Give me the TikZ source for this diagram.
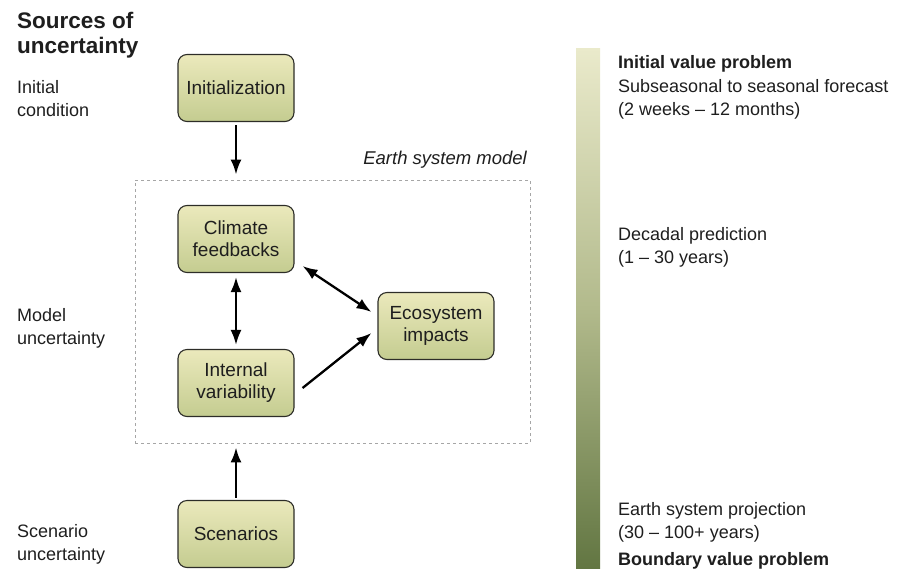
\documentclass[tikz,border=0pt]{standalone}
\usepackage{fontspec}
\setmainfont{Liberation Sans}
\usetikzlibrary{arrows.meta,positioning}

\definecolor{boxtop}{RGB}{235,233,188}
\definecolor{boxbot}{RGB}{196,204,144}
\definecolor{boxline}{RGB}{45,45,40}
\definecolor{bartop}{RGB}{234,234,203}
\definecolor{barmid}{RGB}{178,186,140}
\definecolor{barbot}{RGB}{98,118,66}
\definecolor{txt}{RGB}{30,30,30}

\tikzset{
  srcbox/.style={draw=boxline, line width=1.1pt, rounded corners=9pt,
    top color=boxtop, bottom color=boxbot, minimum width=116pt,
    minimum height=67pt, align=center, text=txt,
    font=\fontsize{19}{22}\selectfont},
  esmbox/.style={draw=gray!70, dashed, line width=0.9pt,
    minimum width=395pt, minimum height=263pt, inner sep=0pt},
  lbl/.style={anchor=base west, align=left, inner sep=0pt, text=txt,
    font=\fontsize{18}{22.5}\selectfont},
  arr/.style={line width=2.3pt, -{Latex[length=15pt,width=11pt]}},
  darr/.style={line width=2.3pt, {Latex[length=15pt,width=11pt]}-{Latex[length=15pt,width=11pt]}}
}

\begin{document}
\begin{tikzpicture}[x=1pt, y=-1pt]

\useasboundingbox (0,0) rectangle (907,573); %% page size

%% left column (base = last line)
\node[lbl, font=\fontsize{22.5}{25}\selectfont\bfseries] (title) at (17,53) {Sources of\\uncertainty};
\node[lbl] (initlbl) at (17,116) {Initial\\condition};
\node[lbl] (modlbl) at (17,344) {Model\\uncertainty};
\node[lbl] (scenlbl) at (17,560) {Scenario\\uncertainty};

%% boxes
\node[srcbox] (init) at (236,88) {Initialization};
\node[esmbox] (esm) at (332.5,311.5) {};
\node[lbl, anchor=base east, font=\fontsize{18.5}{22}\selectfont\itshape] (esmlbl) at (527,164) {Earth system model};
\node[srcbox] (clim) at (236,239) {Climate\\feedbacks};
\node[srcbox] (intv) at (236,383) {Internal\\variability};
\node[srcbox] (eco) at (436,326) {Ecosystem\\impacts};
\node[srcbox] (scen) at (236,534) {Scenarios};

%% connectors
\draw[arr, shorten <=3pt, shorten >=5pt] (init.south) -- (init.south |- esm.north);
\draw[arr, shorten <=2pt, shorten >=4pt] (scen.north) -- (scen.north |- esm.south);
\draw[darr, shorten <=4pt, shorten >=4pt] (clim.south) -- (intv.north);
\draw[darr] ([xshift=8pt,yshift=7pt]clim.south east) -- ([xshift=-6pt,yshift=14pt]eco.west);
\draw[arr] ([xshift=8pt,yshift=-5pt]intv.east) -- ([xshift=-6pt,yshift=-7pt]eco.west);

%% time-scale bar
\shade[top color=bartop, bottom color=barbot, middle color=barmid] (576,48) rectangle (600,568);
\node[lbl, font=\fontsize{18}{22}\selectfont\bfseries] (ivp) at (618,68) {Initial value problem};
\node[lbl] (s2s) at (618,115) {Subseasonal to seasonal forecast\\(2 weeks -- 12 months)};
\node[lbl] (dec) at (618,263) {Decadal prediction\\(1 -- 30 years)};
\node[lbl] (proj) at (618,538) {Earth system projection\\(30 -- 100+ years)};
\node[lbl, font=\fontsize{18}{22}\selectfont\bfseries] (bvp) at (618,565) {Boundary value problem};

\end{tikzpicture}
\end{document}
